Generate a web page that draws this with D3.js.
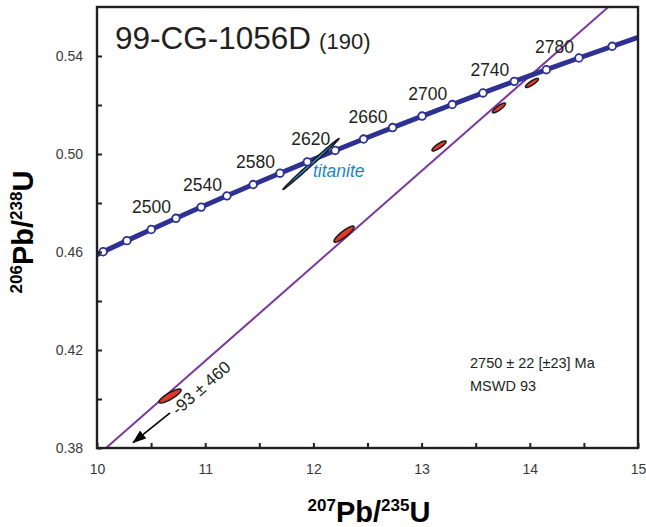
<!DOCTYPE html>
<html><head><meta charset="utf-8">
<script src="https://cdn.jsdelivr.net/npm/d3@7"></script>
<style>
body{margin:0;background:#fff;}
svg{display:block;font-family:"Liberation Sans",Arial,sans-serif;}
</style></head><body>
<svg id="c" width="646" height="527"></svg>
<script>
// ---- data ----
const xDomain = [10, 15];
const yDomain = [0.38, 0.56];
const xTicks = [10, 10.5, 11, 11.5, 12, 12.5, 13, 13.5, 14, 14.5, 15];
const xTickLabels = ["10", "", "11", "", "12", "", "13", "", "14", "", "15"];
const yTicks = [0.38, 0.40, 0.42, 0.44, 0.46, 0.48, 0.50, 0.52, 0.54];
const yTickLabels = ["0.38", "", "0.42", "", "0.46", "", "0.50", "", "0.54"];
// concordia (ages in Ma)
const lambda238 = 1.55125e-10, lambda235 = 9.8485e-10;
const markerAges = [2440,2460,2480,2500,2520,2540,2560,2580,2600,2620,2640,2660,2680,2700,2720,2740,2760,2780,2800];
const labelAges = [2500,2540,2580,2620,2660,2700,2740,2780];
const curveAges = [2400,2420,2440,2460,2480,2500,2520,2540,2560,2580,2600,2620,2640,2660,2680,2700,2720,2740,2760,2780,2800,2820,2840];
// discordia intercepts (Ma)
const upperIntercept = 2750, lowerIntercept = -93;
// zircon analyses: 207/235, 206/238, sigma x, sigma y, rho
const zrX = [10.675, 12.283, 13.161, 13.715, 14.020];
const zrY = [0.4012, 0.4673, 0.5033, 0.5188, 0.5290];
const zrSX = [0.102, 0.093, 0.065, 0.060, 0.060];
const zrSY = [0.00286, 0.00330, 0.00205, 0.00200, 0.00185];
const zrRho = [0.85, 0.88, 0.85, 0.85, 0.85];
// titanite analysis
const tiX = [11.978], tiY = [0.4959], tiSX = [0.259], tiSY = [0.0104], tiRho = [0.997];
const title = "99-CG-1056D", titleSub = "(190)";
const resultLines = ["2750 ± 22 [±23] Ma", "MSWD 93"];
const lowerLabel = "-93 ± 460";

// ---- drawing ----
const svg = d3.select("#c");
const x = d3.scaleLinear(xDomain, [97, 638]);
const y = d3.scaleLinear(yDomain, [448, 7]);
const ratio = t => ({x: Math.exp(lambda235 * t * 1e6) - 1, y: Math.exp(lambda238 * t * 1e6) - 1});

const defs = svg.append("defs");
defs.append("clipPath").attr("id","clip")
  .append("rect").attr("x",97).attr("y",7).attr("width",541).attr("height",441);
defs.append("marker").attr("id","arr").attr("viewBox","0 0 14 10")
  .attr("refX",13).attr("refY",5).attr("markerWidth",14).attr("markerHeight",10)
  .attr("markerUnits","userSpaceOnUse").attr("orient","auto")
  .append("path").attr("d","M0,0L14,5L0,10Z").attr("fill","#000");

const plot = svg.append("g").attr("clip-path","url(#clip)");

// discordia
const up = ratio(upperIntercept), lo = ratio(lowerIntercept);
const slope = (up.y - lo.y) / (up.x - lo.x);
const dx0 = 9.5, dx1 = 15.5;
plot.append("line")
  .attr("x1", x(dx0)).attr("y1", y(up.y + (dx0 - up.x) * slope))
  .attr("x2", x(dx1)).attr("y2", y(up.y + (dx1 - up.x) * slope))
  .attr("stroke","#7b3a9c").attr("stroke-width",2);

// concordia
const line = d3.line().x(d => x(ratio(d).x)).y(d => y(ratio(d).y)).curve(d3.curveNatural);
plot.append("path").attr("d", line(curveAges)).attr("fill","none")
  .attr("stroke","#2e3192").attr("stroke-width",5);

// ellipses
function ellipse(cx, cy, sx, sy, rho) {
  const pts = d3.range(0, 73).map(i => {
    const t = i / 72 * 2 * Math.PI;
    return [x(cx + sx * Math.cos(t)), y(cy + sy * (rho * Math.cos(t) + Math.sqrt(1 - rho*rho) * Math.sin(t)))];
  });
  return d3.line()(pts) + "Z";
}
zrX.forEach((v, i) => {
  plot.append("path").attr("d", ellipse(v, zrY[i], zrSX[i], zrSY[i], zrRho[i]))
    .attr("fill","#dc3b2a").attr("stroke","#1a1a1a").attr("stroke-width",1.5);
});
tiX.forEach((v, i) => {
  plot.append("path").attr("d", ellipse(v, tiY[i], tiSX[i], tiSY[i], tiRho[i]))
    .attr("fill","#2b95d3").attr("stroke","#1a1a1a").attr("stroke-width",1.5);
});

// concordia markers
plot.selectAll("circle.m").data(markerAges).join("circle")
  .attr("cx", d => x(ratio(d).x)).attr("cy", d => y(ratio(d).y)).attr("r",3.8)
  .attr("fill","#fff").attr("stroke","#2e3192").attr("stroke-width",1.8);

// age labels
svg.selectAll("text.age").data(labelAges).join("text")
  .attr("x", d => x(ratio(d).x) - 5).attr("y", d => y(ratio(d).y) - 5)
  .attr("text-anchor","end").attr("font-size",17.5).attr("fill","#231f20").text(d => d);

// titanite label
svg.append("text").attr("x", 313).attr("y", 177).attr("font-size",17.5)
  .attr("font-style","italic").attr("fill","#1a86c8").text("titanite");

// axes
const xAxis = svg.append("g").attr("transform","translate(0,448)")
  .call(d3.axisBottom(x).tickValues(xTicks).tickSize(-5).tickPadding(16)
    .tickFormat((d,i) => xTickLabels[i]));
const yAxis = svg.append("g").attr("transform","translate(97,0)")
  .call(d3.axisLeft(y).tickValues(yTicks).tickSize(-5).tickPadding(14)
    .tickFormat((d,i) => yTickLabels[i]));
[xAxis, yAxis].forEach(g => {
  g.select(".domain").remove();
  g.selectAll(".tick line").attr("stroke","#231f20").attr("stroke-width",2);
  g.selectAll(".tick text").attr("font-size",14).attr("fill","#3a3a3a")
    .attr("font-family","'Liberation Sans',Arial,sans-serif");
});

// frame
svg.append("rect").attr("x",97).attr("y",7).attr("width",541).attr("height",441)
  .attr("fill","none").attr("stroke","#231f20").attr("stroke-width",2.4);

// title
const t = svg.append("text").attr("x",115).attr("y",49).attr("fill","#231f20");
t.append("tspan").attr("font-size",31.5).text(title);
t.append("tspan").attr("font-size",22).attr("dx",8).text(titleSub);

// result box
svg.selectAll("text.res").data(resultLines).join("text")
  .attr("x",470).attr("y",(d,i) => 368 + i*23).attr("font-size",14.5).attr("fill","#231f20").text(d => d);

// lower intercept annotation
const pxSlope = -(slope * (y(0) - y(1))) / (x(1) - x(0));
const angDeg = Math.atan(pxSlope) * 180 / Math.PI;
svg.append("text").attr("transform", `translate(178,416) rotate(${angDeg})`)
  .attr("font-size",17).attr("fill","#231f20").text(lowerLabel);
svg.append("line").attr("x1", x(10.675)).attr("y1", y(0.3943)).attr("x2", x(10.333)).attr("y2", y(0.3822))
  .attr("stroke","#000").attr("stroke-width",1.6).attr("marker-end","url(#arr)");

// axis titles
const fontT = "'Liberation Sans Narrow','Arial Narrow','Liberation Sans',Arial,sans-serif";
const xt = svg.append("text").attr("x",369).attr("y",522).attr("text-anchor","middle")
  .attr("font-family",fontT).attr("font-weight","bold").attr("font-size",29).attr("fill","#000");
xt.append("tspan").attr("font-size",17).attr("dy",-11).text("207");
xt.append("tspan").attr("dy",11).text("Pb/");
xt.append("tspan").attr("font-size",17).attr("dy",-11).text("235");
xt.append("tspan").attr("dy",11).text("U");
const yt = svg.append("text").attr("transform","translate(33,232) rotate(-90)").attr("text-anchor","middle")
  .attr("font-family",fontT).attr("font-weight","bold").attr("font-size",29).attr("fill","#000");
yt.append("tspan").attr("font-size",17).attr("dy",-11).text("206");
yt.append("tspan").attr("dy",11).text("Pb/");
yt.append("tspan").attr("font-size",17).attr("dy",-11).text("238");
yt.append("tspan").attr("dy",11).text("U");
</script></body></html>
